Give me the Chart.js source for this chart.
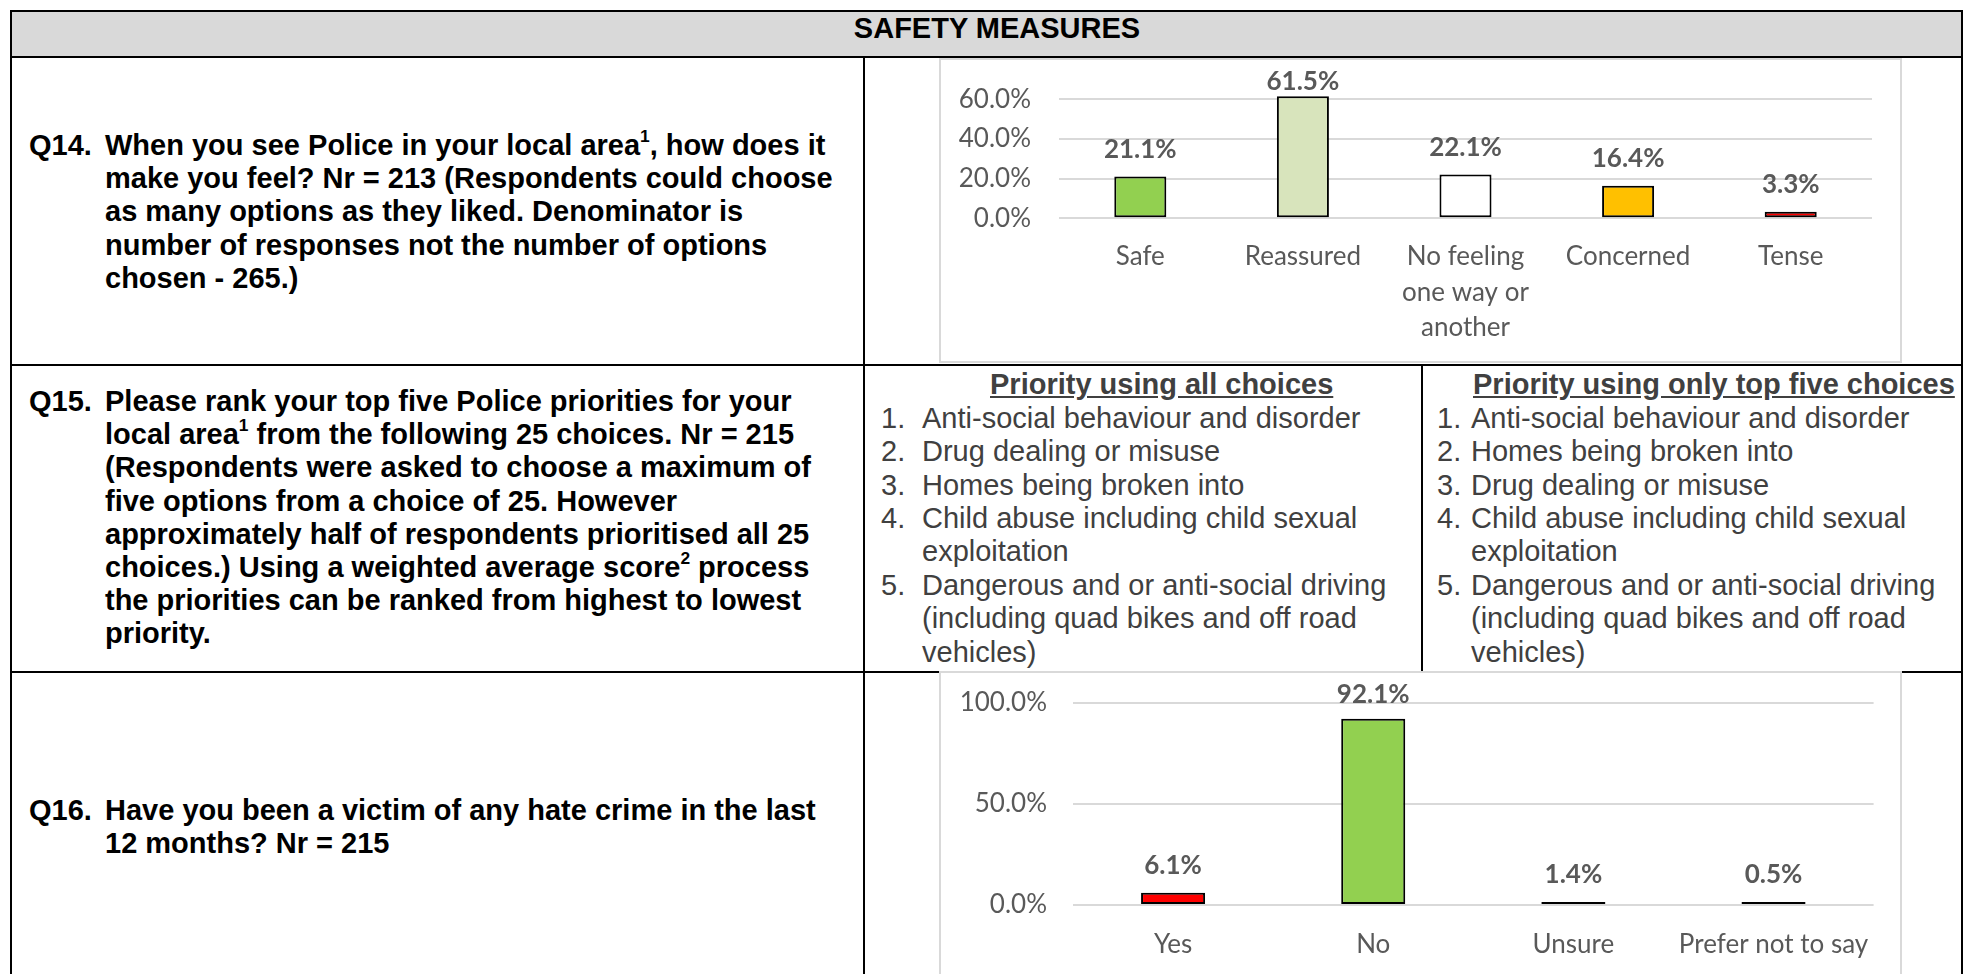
<!DOCTYPE html>
<html>
<head>
<meta charset="utf-8">
<script src="https://cdn.jsdelivr.net/npm/chart.js@4.4.0/dist/chart.umd.min.js"></script>
<style>
  body { margin: 0; width: 1966px; height: 974px; overflow: hidden; position: relative; background: #fff; }
  .ln { position: absolute; background: #000; }
  .hd { position: absolute; left: 12px; top: 12px; width: 1949px; height: 44px; background: #d9d9d9; }
  .title { position: absolute; left: 797px; top: 12px; width: 400px; height: 44px; line-height: 44px; text-align: center;
           font: bold 29px "Liberation Sans", Arial, sans-serif; color: #000; }
  .q { position: absolute; left: 29px; font: bold 29px "Liberation Sans", Arial, sans-serif; line-height: 33.2px; color: #000; white-space: nowrap; }
  .q .n { position: absolute; left: 0; top: 0; }
  .q .t { padding-left: 76px; }
  sup { font-size: 60%; line-height: 0; vertical-align: 0.75em; }
  .lh { position: absolute; font: bold 29px "Liberation Sans", Arial, sans-serif; color: #404040; text-decoration: underline; white-space: nowrap; line-height: 33.4px; }
  .list { position: absolute; font: 29px "Liberation Sans", Arial, sans-serif; color: #404040; line-height: 33.4px; white-space: nowrap; }
  .list .it { position: relative; }
  .list .it span { position: absolute; left: 0; top: 0; }
  .box { position: absolute; left: 939px; width: 963px; box-sizing: border-box; border: 2px solid #d9d9d9; background: #fff; }
  .box canvas { display: block; }
</style>
</head>
<body>

<div class="ln" style="left:10px;top:10px;width:1953px;height:2px"></div>
<div class="hd"></div>
<div class="title">SAFETY MEASURES</div>
<div class="ln" style="left:10px;top:10px;width:2px;height:980px"></div>
<div class="ln" style="left:1961px;top:10px;width:2px;height:980px"></div>
<div class="ln" style="left:10px;top:56px;width:1953px;height:2px"></div>
<div class="ln" style="left:863px;top:56px;width:2px;height:930px"></div>
<div class="ln" style="left:10px;top:364px;width:1953px;height:2px"></div>
<div class="ln" style="left:10px;top:671px;width:1953px;height:2px"></div>
<div class="ln" style="left:1421px;top:364px;width:2px;height:309px"></div>

<div class="q" style="top:129px"><span class="n">Q14.</span><div class="t">When you see Police in your local area<sup>1</sup>, how does it<br>make you feel? Nr = 213 (Respondents could choose<br>as many options as they liked. Denominator is<br>number of responses not the number of options<br>chosen - 265.)</div></div>

<div class="q" style="top:385px"><span class="n">Q15.</span><div class="t">Please rank your top five Police priorities for your<br>local area<sup>1</sup> from the following 25 choices. Nr = 215<br>(Respondents were asked to choose a maximum of<br>five options from a choice of 25. However<br>approximately half of respondents prioritised all 25<br>choices.) Using a weighted average score<sup>2</sup> process<br>the priorities can be ranked from highest to lowest<br>priority.</div></div>

<div class="q" style="top:794px"><span class="n">Q16.</span><div class="t">Have you been a victim of any hate crime in the last<br>12 months? Nr = 215</div></div>

<div class="lh" style="left:990px;top:368px">Priority using all choices</div>
<div class="list" style="left:881px;top:401.7px">
  <div class="it" style="padding-left:41px"><span>1.</span>Anti-social behaviour and disorder</div>
  <div class="it" style="padding-left:41px"><span>2.</span>Drug dealing or misuse</div>
  <div class="it" style="padding-left:41px"><span>3.</span>Homes being broken into</div>
  <div class="it" style="padding-left:41px"><span>4.</span>Child abuse including child sexual<br>exploitation</div>
  <div class="it" style="padding-left:41px"><span>5.</span>Dangerous and or anti-social driving<br>(including quad bikes and off road<br>vehicles)</div>
</div>

<div class="lh" style="left:1473px;top:368px">Priority using only top five choices</div>
<div class="list" style="left:1437px;top:401.7px">
  <div class="it" style="padding-left:34px"><span>1.</span>Anti-social behaviour and disorder</div>
  <div class="it" style="padding-left:34px"><span>2.</span>Homes being broken into</div>
  <div class="it" style="padding-left:34px"><span>3.</span>Drug dealing or misuse</div>
  <div class="it" style="padding-left:34px"><span>4.</span>Child abuse including child sexual<br>exploitation</div>
  <div class="it" style="padding-left:34px"><span>5.</span>Dangerous and or anti-social driving<br>(including quad bikes and off road<br>vehicles)</div>
</div>

<div class="box" style="top:58px;height:305px"><canvas id="feel" width="959" height="301"></canvas></div>
<div class="box" style="top:671px;height:306px"><canvas id="hate" width="959" height="302"></canvas></div>

<script>
// Q14 - how seeing police makes you feel (%)
const feelLabels = ['Safe', 'Reassured', ['No feeling', 'one way or', 'another'], 'Concerned', 'Tense'];
const feelValues = [21.1, 61.5, 22.1, 16.4, 3.3];
const feelColours = ['#92d050', '#d8e4bc', '#ffffff', '#ffc000', '#ff0000'];
const feelTicks = [0, 20, 40, 60];

// Q16 - victim of hate crime (%)
const hateLabels = ['Yes', 'No', 'Unsure', 'Prefer not to say'];
const hateValues = [6.1, 92.1, 1.4, 0.5];
const hateColours = ['#ff0000', '#92d050', '#ffffff', '#ffffff'];
const hateTicks = [0, 50, 100];

const FONT = 'Lato';

// value labels above the bars, kept inside the box at the top
const barLabels = {
    id: 'barLabels',
    afterDatasetsDraw(chart) {
        let ctx = chart.ctx;
        let data = chart.data.datasets[0].data;
        ctx.save();
        ctx.font = 'bold 26px ' + FONT;
        ctx.fillStyle = '#595959';
        ctx.textAlign = 'center';
        ctx.textBaseline = 'middle';
        chart.getDatasetMeta(0).data.forEach(function (bar, i) {
            let y = Math.max(bar.y - 27, 22);
            ctx.fillText(data[i].toFixed(1) + '%', bar.x, y);
        });
        ctx.restore();
    }
};

function makeChart(id, labels, values, colours, ticks, max, s) {
    return new Chart(document.getElementById(id), {
        type: 'bar',
        data: {
            labels: labels,
            datasets: [{
                data: values,
                backgroundColor: colours,
                borderColor: '#000000',
                borderWidth: 2,
                borderSkipped: false,
                minBarLength: 3,
                barPercentage: 0.32,
                categoryPercentage: 1
            }]
        },
        options: {
            responsive: false,
            animation: false,
            events: [],
            layout: { padding: { top: s.top, right: s.right, left: 0, bottom: 0 } },
            plugins: { legend: { display: false }, tooltip: { enabled: false } },
            scales: {
                x: {
                    grid: { display: false, drawTicks: false },
                    border: { display: false },
                    ticks: { color: '#595959', font: { family: FONT, size: 26, lineHeight: 1.38 }, padding: s.xPad, maxRotation: 0, autoSkip: false },
                    afterFit: function (scale) {
                        scale.height = s.xHeight;
                        scale.paddingLeft = 0;
                        scale.paddingRight = 0;
                    }
                },
                y: {
                    min: 0,
                    max: max,
                    grid: { color: '#d9d9d9', lineWidth: 2, drawTicks: false },
                    border: { display: false },
                    ticks: {
                        color: '#595959',
                        font: { family: FONT, size: 26 },
                        padding: s.yPad,
                        callback: function (v) { return v.toFixed(1) + '%'; }
                    },
                    afterBuildTicks: function (scale) { scale.ticks = ticks.map(function (v) { return { value: v }; }); },
                    afterFit: function (scale) {
                        scale.width = s.yWidth;
                        scale.paddingTop = 0;
                        scale.paddingBottom = 0;
                    }
                }
            }
        },
        plugins: [barLabels]
    });
}

makeChart('feel', feelLabels, feelValues, feelColours, feelTicks, 65,
    { top: 29.4, right: 28, yWidth: 118, xHeight: 142.7, yPad: 28, xPad: 20 });
makeChart('hate', hateLabels, hateValues, hateColours, hateTicks, 100,
    { top: 29.7, right: 26.4, yWidth: 132, xHeight: 70, yPad: 26, xPad: 22 });
</script>
</body>
</html>
